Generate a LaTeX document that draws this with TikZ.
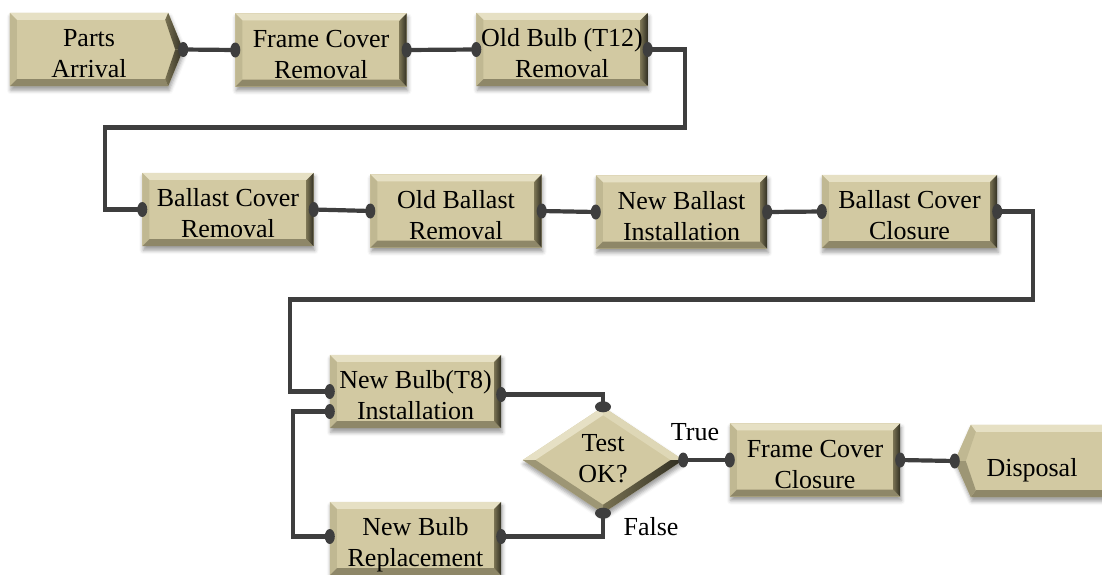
\documentclass[tikz,border=0pt]{standalone}
\usepackage{fontspec}
\setmainfont{Liberation Serif}
\newfontfamily\boxfont{Liberation Serif}
\usetikzlibrary{calc,shapes.geometric,shadows.blur}
\pgfdeclarelayer{background}
\pgfsetlayers{background,main}

\definecolor{bevface}{RGB}{210,201,162}
\definecolor{bevtop}{RGB}{230,224,196}
\definecolor{bevleft}{RGB}{192,184,146}
\definecolor{bevbottom}{RGB}{142,135,104}
\definecolor{bevrin}{RGB}{120,113,82}
\definecolor{bevrout}{RGB}{48,46,34}
\definecolor{wirec}{RGB}{62,62,62}

\newcommand\bevw{7pt}

% bevelled rectangle behind a named node
\newcommand\bevelrect[1]{%
  \coordinate (o1) at (#1.north west);
  \coordinate (o2) at (#1.north east);
  \coordinate (o3) at (#1.south east);
  \coordinate (o4) at (#1.south west);
  \coordinate (i1) at ($(o1)+(\bevw,-\bevw)$);
  \coordinate (i2) at ($(o2)+(-\bevw,-\bevw)$);
  \coordinate (i3) at ($(o3)+(-\bevw,\bevw)$);
  \coordinate (i4) at ($(o4)+(\bevw,\bevw)$);
  \fill[bevface,bevshadow] (o1) -- (o2) -- (o3) -- (o4) -- cycle;
  \fill[bevtop] (o1) -- (o2) -- (i2) -- (i1) -- cycle;
  \fill[bevleft] (o4) -- (o1) -- (i1) -- (i4) -- cycle;
  \fill[bevbottom] (o3) -- (o4) -- (i4) -- (i3) -- cycle;
  \shade[left color=bevrin, right color=bevrout] (o2) -- (o3) -- (i3) -- (i2) -- cycle;
}

\tikzset{
  lbl/.style={font=\boxfont\fontsize{26}{31}\selectfont, align=center, inner sep=0pt, text=black},
  twoline/.style={text height=62pt, text depth=6pt},
  proc/.style={lbl, twoline, rectangle, minimum width=171pt, minimum height=73pt},
  wire/.style={draw=wirec, line width=4.2pt},
  pinv/.style={fill=wirec},
  bevshadow/.style={blur shadow={shadow xshift=1pt, shadow yshift=-4pt,
      shadow blur radius=4pt, shadow opacity=40}},
}

\begin{document}
\begin{tikzpicture}[x=1pt, y=-1pt]
\useasboundingbox (0,0) rectangle (1102,574);

% ---- text nodes ----
\node[lbl, twoline, rectangle, minimum width=158pt, minimum height=73pt] (pa) at (89,49.5) {Parts\\Arrival};
\node[proc] (fcr) at (321,50) {Frame Cover\\Removal};
\node[proc] (ob)  at (562,49.5) {Old Bulb (T12)\\Removal};
\node[proc] (bcr) at (228,209.5) {Ballast Cover\\Removal};
\node[proc] (obr) at (456,211) {Old Ballast\\Removal};
\node[proc] (nbi) at (681.5,212) {New Ballast\\Installation};
\node[proc, minimum width=175pt] (bcc) at (909.5,211.5) {Ballast Cover\\Closure};
\node[proc] (nb8) at (415.5,391.5) {New Bulb(T8)\\Installation};
\node[proc] (nbr) at (415.5,538.5) {New Bulb\\Replacement};
\node[lbl, diamond, text height=50pt, text depth=6pt, minimum width=160pt, minimum height=106pt, aspect=1.5] (dia) at (603,460) {Test\\OK?};
\node[proc, minimum width=170pt] (fcc) at (815,460) {Frame Cover\\Closure};
\node[lbl, rectangle, text height=37pt, text depth=6pt, minimum width=122pt, minimum height=72pt] (dis) at (1032,461) {Disposal};
\node[lbl, anchor=center] (ltrue) at (695,432) {True};
\node[lbl, anchor=center] (lfalse) at (651,527) {False};

\begin{pgfonlayer}{background}
% ---- process boxes ----
\foreach \n in {fcr,ob,bcr,obr,nbi,bcc,nb8,nbr,fcc} {\bevelrect{\n}}

% ---- arrival (arrow-shaped) ----
\coordinate (A) at (pa.north west);
\coordinate (B) at (pa.north east);
\coordinate (P) at ($(pa.east)+(15pt,0)$);
\coordinate (C) at (pa.south east);
\coordinate (D) at (pa.south west);
\coordinate (a) at ($(A)+(\bevw,-\bevw)$);
\coordinate (b) at ($(B)+(-3pt,-\bevw)$);
\coordinate (p) at ($(P)+(-8pt,0)$);
\coordinate (c) at ($(C)+(-3pt,\bevw)$);
\coordinate (d) at ($(D)+(\bevw,\bevw)$);
\fill[bevface,bevshadow] (A) -- (B) -- (P) -- (C) -- (D) -- cycle;
\fill[bevtop] (A) -- (B) -- (b) -- (a) -- cycle;
\fill[bevleft] (D) -- (A) -- (a) -- (d) -- cycle;
\fill[bevbottom] (C) -- (D) -- (d) -- (c) -- cycle;
\shade[left color=bevrin, right color=bevrout] (B) -- (P) -- (p) -- (b) -- cycle;
\shade[left color=bevrin, right color=bevrout] (P) -- (C) -- (c) -- (p) -- cycle;

% ---- disposal (arrow-shaped, pointing left) ----
\coordinate (T) at ($(dis.west)+(-16pt,0)$);
\coordinate (U) at (dis.north west);
\coordinate (V) at ($(dis.north east)+(20pt,0)$);
\coordinate (W) at ($(dis.south east)+(20pt,0)$);
\coordinate (X) at (dis.south west);
\coordinate (t) at ($(T)+(11pt,0)$);
\coordinate (u) at ($(U)+(5pt,-\bevw)$);
\coordinate (v) at ($(V)+(0,-\bevw)$);
\coordinate (w) at ($(W)+(0,\bevw)$);
\coordinate (x) at ($(X)+(5pt,\bevw)$);
\fill[bevface,bevshadow] (T) -- (U) -- (V) -- (W) -- (X) -- cycle;
\fill[bevtop] (U) -- (V) -- (v) -- (u) -- cycle;
\fill[bevleft] (T) -- (U) -- (u) -- (t) -- cycle;
\fill[bevbottom] (X) -- (W) -- (w) -- (x) -- cycle;
\fill[bevbottom!70!bevleft] (T) -- (X) -- (x) -- (t) -- cycle;

% ---- decision diamond ----
\coordinate (N) at (dia.north);
\coordinate (E) at (dia.east);
\coordinate (S) at (dia.south);
\coordinate (Wd) at (dia.west);
\coordinate (n) at ($(N)+(0,-8.4pt)$);
\coordinate (e) at ($(E)+(-12.6pt,0)$);
\coordinate (s) at ($(S)+(0,8.4pt)$);
\coordinate (wd) at ($(Wd)+(12.6pt,0)$);
\fill[bevface,bevshadow] (N) -- (E) -- (S) -- (Wd) -- cycle;
\fill[bevtop] (Wd) -- (N) -- (n) -- (wd) -- cycle;
\fill[bevtop!60!bevface] (N) -- (E) -- (e) -- (n) -- cycle;
\shade[left color=bevrin, right color=bevrout] (E) -- (S) -- (s) -- (e) -- cycle;
\fill[bevbottom!70!bevleft] (S) -- (Wd) -- (wd) -- (s) -- cycle;

% ---- connectors ----
\draw[wire] (P) -- (fcr.west);
\draw[wire] (fcr.east) -- (ob.west);
\draw[wire] (ob.east) -- ++(37,0) -- ++(0,78) -| ($(bcr.west)+(-37pt,0)$) -- (bcr.west);
\draw[wire] (bcr.east) -- (obr.west);
\draw[wire] (obr.east) -- (nbi.west);
\draw[wire] (nbi.east) -- (bcc.west);
\draw[wire] (bcc.east) -- ++(36,0) -- ++(0,88) -| ($(nb8.west)+(-40pt,0)$) -- (nb8.west);
\draw[wire] ($(nb8.east)+(0,-3pt)$) -| (dia.north);
\draw[wire] (dia.south) |- ($(nbr.east)+(0,2pt)$);
\draw[wire] ($(nbr.west)+(0,2pt)$) -- ++(-37,0) |- ($(nb8.west)+(0,-20pt)$);
\draw[wire] (dia.east) -- (fcc.west);
\draw[wire] (fcc.east) -- (T);

% ---- connection pins ----
\foreach \p in {P, fcr.west, fcr.east, ob.west, ob.east, bcr.west, bcr.east,
  obr.west, obr.east, nbi.west, nbi.east, bcc.west, bcc.east, nb8.west,
  fcc.west, fcc.east, T, dia.east}
  {\fill[pinv] (\p) ellipse [x radius=5pt, y radius=7.5pt];}
\fill[pinv] ($(nb8.east)+(0,-3pt)$) ellipse [x radius=5pt, y radius=7.5pt];
\fill[pinv] ($(nb8.west)+(0,-20pt)$) ellipse [x radius=5pt, y radius=7.5pt];
\fill[pinv] ($(nbr.east)+(0,2pt)$) ellipse [x radius=5pt, y radius=7.5pt];
\fill[pinv] ($(nbr.west)+(0,2pt)$) ellipse [x radius=5pt, y radius=7.5pt];
\fill[pinv] (dia.north) ellipse [x radius=8pt, y radius=5.5pt];
\fill[pinv] (dia.south) ellipse [x radius=8pt, y radius=5.5pt];
\end{pgfonlayer}
\end{tikzpicture}
\end{document}
